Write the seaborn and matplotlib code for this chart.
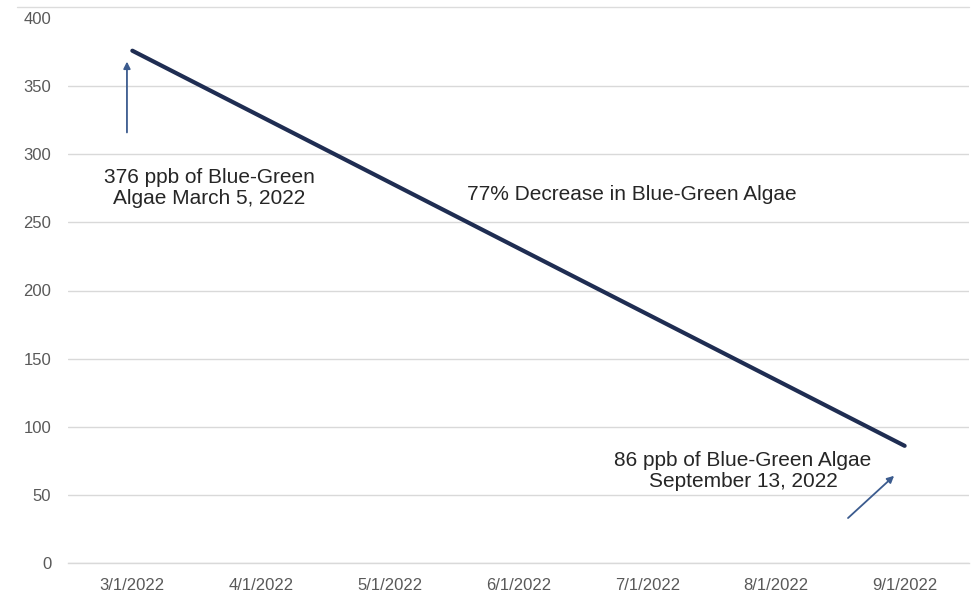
import matplotlib
matplotlib.use("Agg")
import matplotlib.pyplot as plt
import seaborn as sns
import pandas as pd
from matplotlib.lines import Line2D

# ---- data ----
dates = ["2022-03-05", "2022-09-13"]
values = [376, 86]
month_labels = ["3/1/2022", "4/1/2022", "5/1/2022", "6/1/2022",
                "7/1/2022", "8/1/2022", "9/1/2022"]
y_ticks = [0, 50, 100, 150, 200, 250, 300, 350, 400]

sns.set_theme(style="white")
plt.rcParams["font.family"] = ["Liberation Sans", "DejaVu Sans"]

d = pd.to_datetime(pd.Series(dates))
# date axis with base unit = months (Excel-style)
month_idx = (d.dt.year - 2022) * 12 + d.dt.month - 3
df = pd.DataFrame({"month": month_idx, "ppb": values})

fig = plt.figure(figsize=(9.74, 5.93), dpi=100)
ax = fig.add_axes([68 / 974, (593 - 563) / 593, (969 - 68) / 974, (563 - 18) / 593])

sns.lineplot(data=df, x="month", y="ppb", ax=ax, color="#1f2d52", linewidth=3.0)

ax.set_xlim(-0.5, len(month_labels) - 0.5)
ax.set_ylim(0, 400)
ax.set_yticks(y_ticks)
ax.set_xticks(range(len(month_labels)))
ax.set_xticklabels(month_labels)
ax.set_xticks([i - 0.5 for i in range(len(month_labels) + 1)], minor=True)
ax.tick_params(axis="x", which="major", length=0, pad=11, labelsize=12, labelcolor="#595959")
ax.tick_params(axis="x", which="minor", length=5, width=1, color="#d9d9d9", direction="out")
ax.tick_params(axis="y", length=0, pad=12, labelsize=12, labelcolor="#595959")
ax.grid(axis="y", color="#d9d9d9", linewidth=1)
ax.grid(axis="x", visible=False)
ax.yaxis.get_gridlines()[-1].set_visible(False)
for s in ["top", "right", "left"]:
    ax.spines[s].set_visible(False)
ax.spines["bottom"].set_color("#d9d9d9")
ax.spines["bottom"].set_linewidth(1)
ax.set_xlabel("")
ax.set_ylabel("")

# top line (shifted top gridline in the original)
fig.add_artist(Line2D([17 / 974, 969 / 974], [1 - 7 / 593, 1 - 7 / 593],
                      transform=fig.transFigure, color="#dcdcdc", linewidth=1))

arrow_kw = dict(arrowstyle="-|>", color="#3b5b8e", lw=1.3, mutation_scale=10,
                shrinkA=0, shrinkB=0)
ax.annotate("", xy=(-0.042, 368), xytext=(-0.042, 316), arrowprops=arrow_kw)
ax.annotate("", xy=(5.918, 64), xytext=(5.56, 33), arrowprops=arrow_kw)

txt_kw = dict(fontsize=15, color="#262626", ha="center", va="center", linespacing=1.15)
ax.text(0.596, 275, "376 ppb of Blue-Green\nAlgae March 5, 2022", **txt_kw)
ax.text(3.88, 270.6, "77% Decrease in Blue-Green Algae", **txt_kw)
ax.text(4.745, 67.3, "86 ppb of Blue-Green Algae\nSeptember 13, 2022", **txt_kw)

fig.savefig("out.png", dpi=100)
